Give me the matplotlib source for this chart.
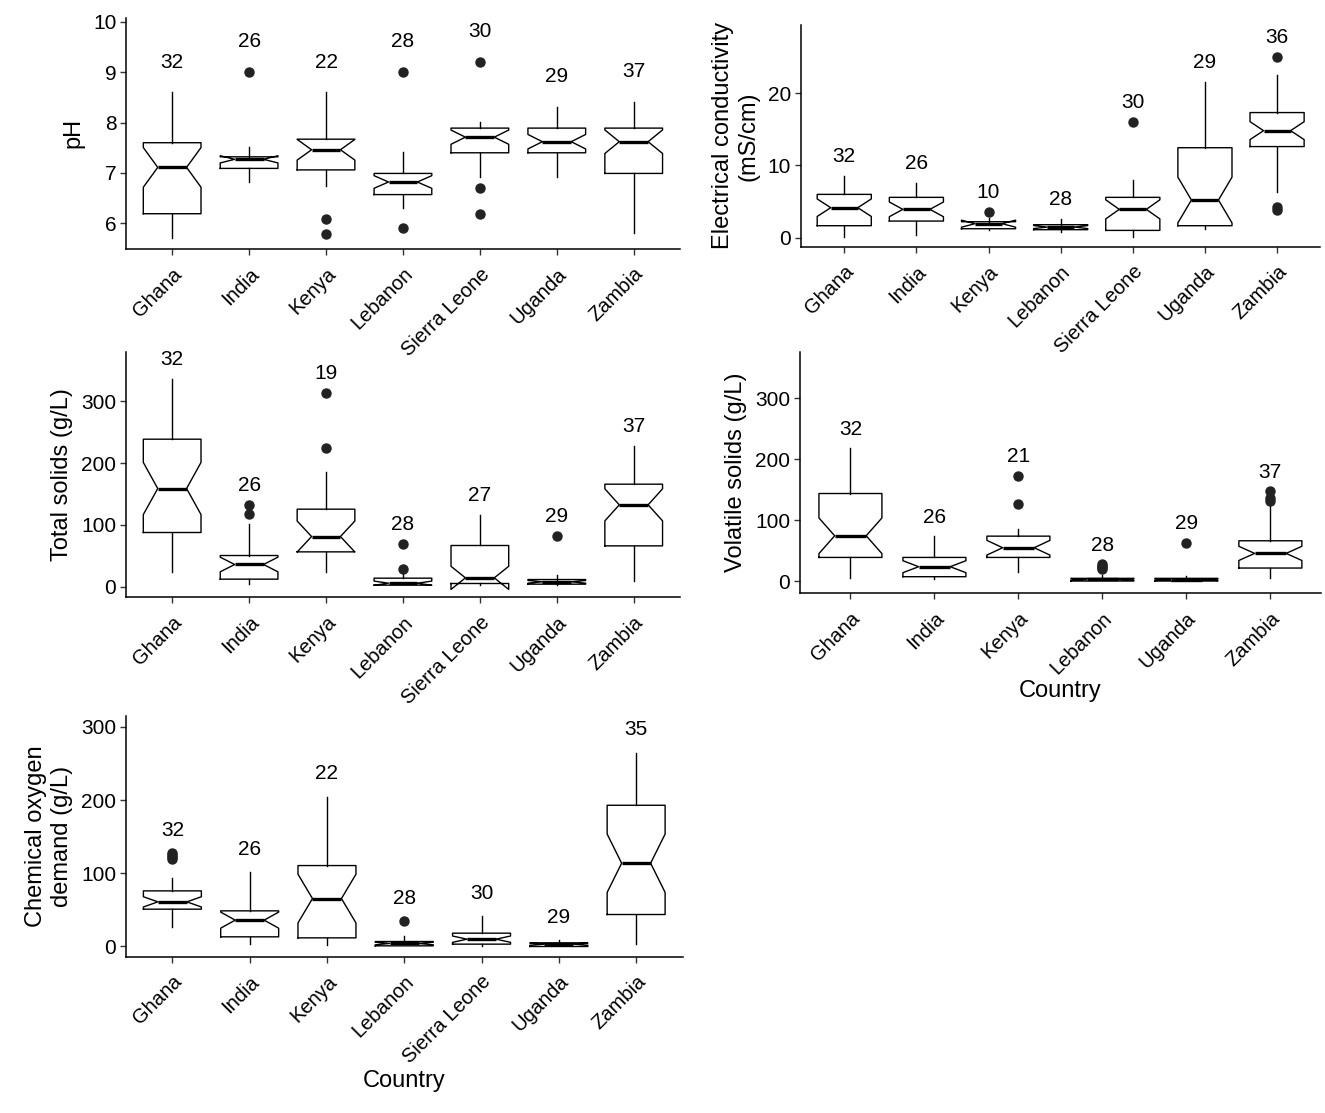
import matplotlib
matplotlib.use("Agg")
import matplotlib.pyplot as plt
import numpy as np

# categories
countries = ["Ghana", "India", "Kenya", "Lebanon", "Sierra Leone", "Uganda", "Zambia"]
countries_vs = ["Ghana", "India", "Kenya", "Lebanon", "Uganda", "Zambia"]

# pH
ph_n = [32, 26, 22, 28, 30, 29, 37]
ph_med = [7.11, 7.27, 7.46, 6.82, 7.71, 7.62, 7.62]
ph_q1 = [6.19, 7.09, 7.06, 6.57, 7.40, 7.40, 6.99]
ph_q3 = [7.60, 7.32, 7.67, 6.99, 7.89, 7.89, 7.89]
ph_lo = [5.70, 6.82, 6.74, 6.31, 6.92, 6.91, 5.80]
ph_hi = [8.60, 7.52, 8.60, 7.42, 8.02, 8.31, 8.41]
ph_out = [[], [9.0], [6.09, 5.78], [9.0, 5.90], [9.20, 6.71, 6.19], [], []]

# electrical conductivity
ec_n = [32, 26, 10, 28, 30, 29, 36]
ec_med = [4.15, 3.92, 1.94, 1.47, 3.92, 5.21, 14.8]
ec_q1 = [1.66, 2.30, 1.24, 1.11, 1.01, 1.66, 12.6]
ec_q3 = [5.99, 5.58, 2.21, 1.80, 5.58, 12.44, 17.3]
ec_lo = [0.09, 0.32, 1.06, 0.74, 0.09, 1.24, 6.36]
ec_hi = [8.57, 7.51, 2.67, 2.58, 7.93, 21.5, 22.5]
ec_out = [[], [], [3.59], [], [16.0], [], [25.0, 4.19, 3.82]]

# total solids
ts_n = [32, 26, 19, 28, 27, 29, 37]
ts_med = [158.9, 36.1, 81.3, 5.9, 14.5, 8.1, 132.5]
ts_q1 = [87.8, 12.4, 56.5, 2.7, 5.4, 4.3, 66.2]
ts_q3 = [238.6, 50.6, 125.5, 14.0, 66.8, 11.8, 165.9]
ts_lo = [23.2, 4.3, 23.2, 2.7, 2.7, 2.7, 9.7]
ts_hi = [335.5, 101.0, 185.0, 21.5, 115.8, 18.8, 227.0]
ts_out = [[], [132.0, 117.6], [313.0, 224.5], [28.5, 69.0], [], [82.4], []]

# volatile solids
vs_n = [32, 26, 21, 28, 29, 37]
vs_med = [74.2, 23.5, 54.6, 2.7, 2.2, 45.3]
vs_q1 = [38.7, 7.1, 38.7, 0.0, 0.0, 21.3]
vs_q3 = [143.5, 38.7, 73.6, 4.4, 4.4, 66.0]
vs_lo = [4.4, 3.3, 14.2, 0.0, 0.0, 4.4]
vs_hi = [217.7, 73.1, 85.1, 10.4, 8.7, 125.0]
vs_out = [[], [], [172.4, 126.6], [27.8, 25.0, 22.4, 19.6], [62.7], [147.3, 136.4, 132.0]]

# chemical oxygen demand
cod_n = [32, 26, 22, 28, 30, 29, 35]
cod_med = [61.0, 36.0, 65.5, 4.1, 10.0, 3.2, 113.8]
cod_q1 = [51.0, 13.2, 11.8, 0.9, 3.2, 0.0, 43.7]
cod_q3 = [76.0, 48.7, 110.6, 6.8, 18.2, 5.0, 193.0]
cod_lo = [26.4, 3.2, 2.3, 0.0, 0.9, 0.0, 3.6]
cod_hi = [93.3, 101.5, 204.8, 13.7, 41.0, 9.1, 265.0]
cod_out = [[127.4, 125.0, 122.9, 119.3], [], [], [35.0], [], [], []]

FONT = ["Liberation Sans", "DejaVu Sans"]


def draw_panel(ax, labels, med, q1, q3, lo, hi, out, n, ylim, yticks, ylabel,
               offset, xlabel=None):
    stats = []
    for i in range(len(labels)):
        # notch as in R: median +/- 1.58 * IQR / sqrt(n)
        half = 1.58 * (q3[i] - q1[i]) / np.sqrt(n[i])
        stats.append(dict(med=med[i], q1=q1[i], q3=q3[i], whislo=lo[i], whishi=hi[i],
                          fliers=out[i], cilo=med[i] - half, cihi=med[i] + half))
    pos = np.arange(1, len(labels) + 1)
    ax.bxp(stats, positions=pos, widths=0.75, shownotches=True, showcaps=False,
           boxprops=dict(color="black", lw=1.0),
           medianprops=dict(color="black", lw=2.4),
           whiskerprops=dict(color="black", lw=1.0),
           flierprops=dict(marker="o", markerfacecolor="#222222", markeredgecolor="#222222",
                           markersize=6.5, linestyle="none"))
    # sample sizes above each box
    for i in range(len(labels)):
        top = max([hi[i]] + list(out[i]))
        ax.text(pos[i], top + offset, str(n[i]), ha="center", va="center",
                fontsize=15, family=FONT)
    ax.set_xlim(0.4, len(labels) + 0.6)
    ax.set_ylim(*ylim)
    ax.set_yticks(yticks)
    ax.set_yticklabels([str(t) for t in yticks], family=FONT, fontsize=15, color="black")
    ax.set_xticks(pos)
    ax.set_xticklabels(labels, rotation=45, ha="right", rotation_mode="anchor",
                       family=FONT, fontsize=14.5, color="black")
    ax.set_ylabel(ylabel, family=FONT, fontsize=17, labelpad=6)
    if xlabel:
        ax.set_xlabel(xlabel, family=FONT, fontsize=17, labelpad=2)
    ax.set_facecolor("none")
    for s in ["top", "right"]:
        ax.spines[s].set_visible(False)
    for s in ["left", "bottom"]:
        ax.spines[s].set_linewidth(1.1)
    ax.tick_params(direction="out", length=4, width=1.0, color="#333333", pad=3)
    ax.tick_params(axis="x", pad=7)


fig = plt.figure(figsize=(13.25, 11.13), dpi=100)

ax1 = fig.add_axes([0.0951, 0.7763, 0.418, 0.2077])
draw_panel(ax1, countries, ph_med, ph_q1, ph_q3, ph_lo, ph_hi, ph_out, ph_n,
           (5.49, 10.08), [6, 7, 8, 9, 10], "pH", 0.6)

ax2 = fig.add_axes([0.6045, 0.7783, 0.392, 0.1992])
draw_panel(ax2, countries, ec_med, ec_q1, ec_q3, ec_lo, ec_hi, ec_out, ec_n,
           (-1.25, 29.4), [0, 10, 20], "Electrical conductivity\n(mS/cm)", 2.7)

ax3 = fig.add_axes([0.0951, 0.4633, 0.418, 0.2207])
draw_panel(ax3, countries, ts_med, ts_q1, ts_q3, ts_lo, ts_hi, ts_out, ts_n,
           (-17, 380), [0, 100, 200, 300], "Total solids (g/L)", 32)

ax4 = fig.add_axes([0.6038, 0.467, 0.393, 0.217])
draw_panel(ax4, countries_vs, vs_med, vs_q1, vs_q3, vs_lo, vs_hi, vs_out, vs_n,
           (-20, 376), [0, 100, 200, 300], "Volatile solids (g/L)", 31, xlabel="Country")

ax5 = fig.add_axes([0.0951, 0.1404, 0.42, 0.2163])
draw_panel(ax5, countries, cod_med, cod_q1, cod_q3, cod_lo, cod_hi, cod_out, cod_n,
           (-14, 315), [0, 100, 200, 300], "Chemical oxygen\ndemand (g/L)", 31, xlabel="Country")

fig.savefig("out.png", dpi=100)
